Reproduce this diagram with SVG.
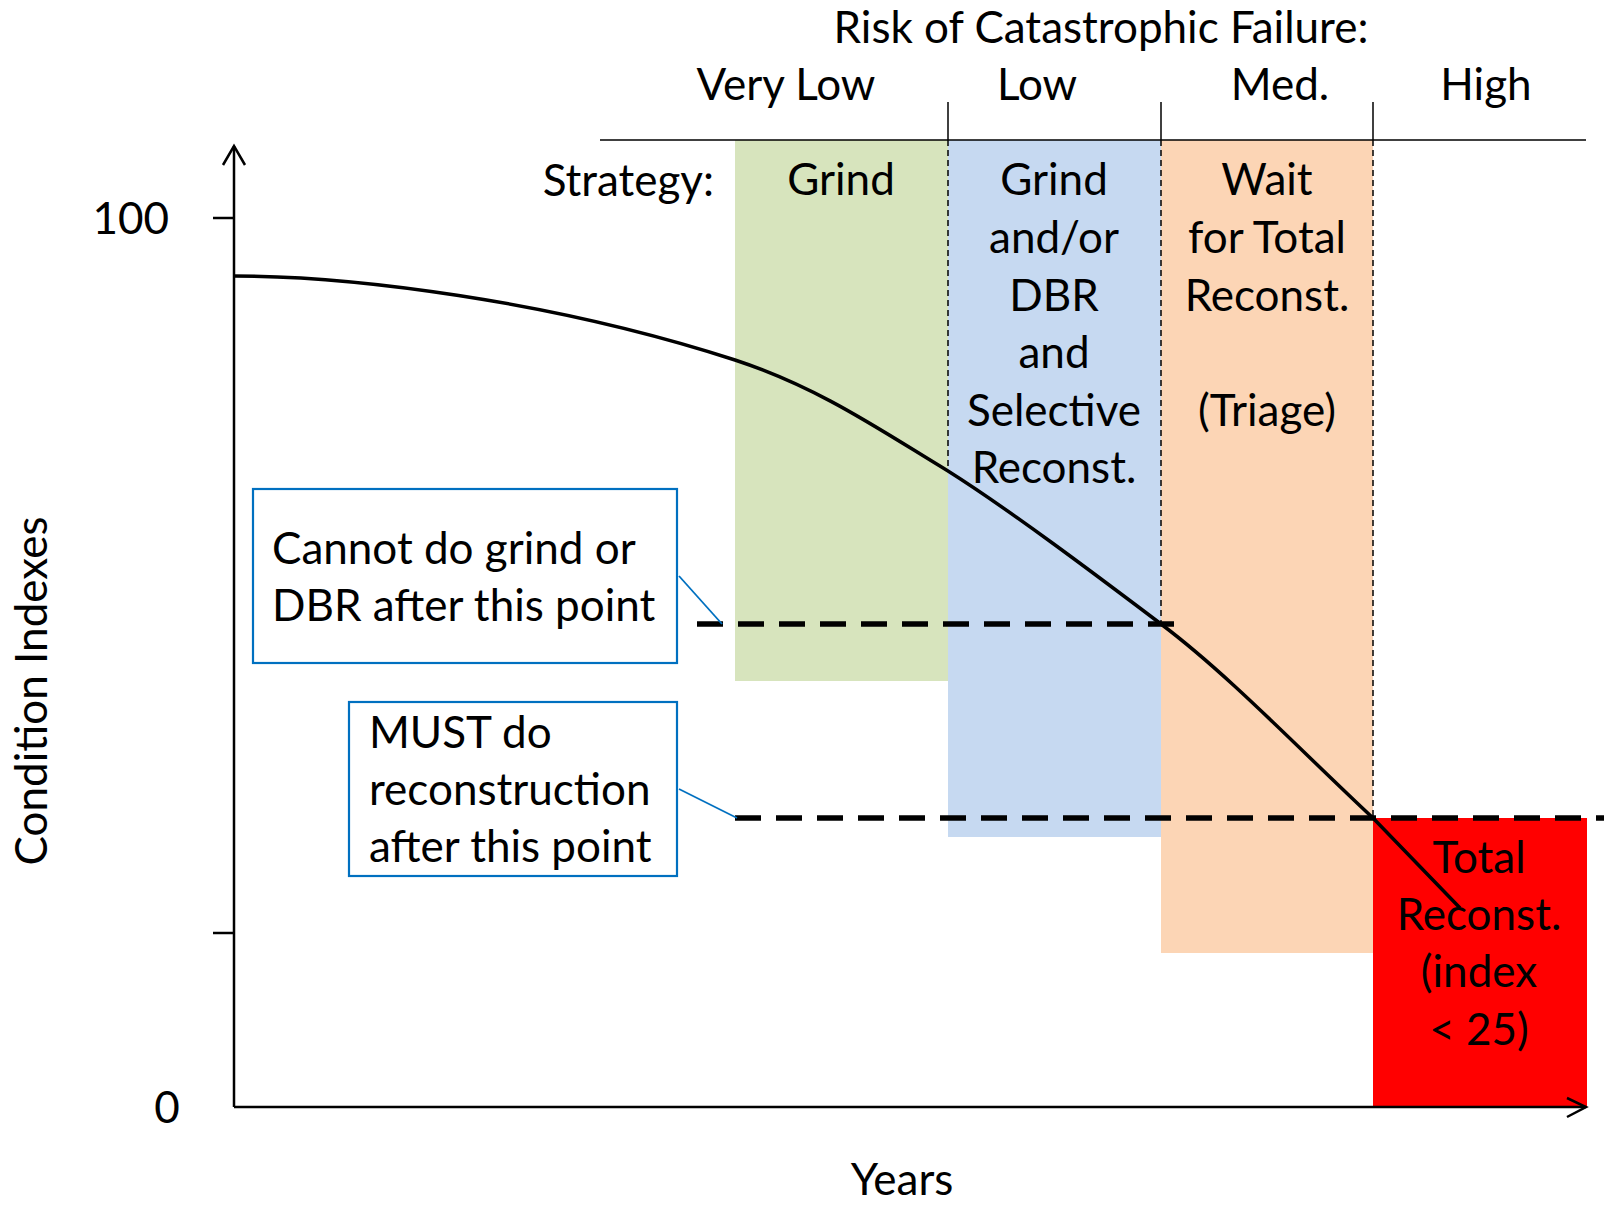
<svg xmlns="http://www.w3.org/2000/svg" width="1604" height="1205" viewBox="0 0 1604 1205">
<style>
  text { font-family: Lato, "Liberation Sans", sans-serif; font-size: 44px; fill: #000; }
  .c { text-anchor: middle; }
  .ax { stroke: #000; stroke-width: 2.5; fill: none; }
  .div { stroke: #000; stroke-width: 1.5; fill: none; }
  .dotv { stroke: #000; stroke-width: 1.5; stroke-dasharray: 6 4; fill: none; }
  .dash { stroke: #000; stroke-width: 5.5; stroke-dasharray: 26 15; fill: none; }
  .box { fill: #fff; stroke: #0070C0; stroke-width: 2.2; }
  .lead { stroke: #0070C0; stroke-width: 1.8; fill: none; }
</style>
<rect width="1604" height="1205" fill="#fff"/>

<g id="band-grind">
  <rect x="735" y="140" width="213" height="541" fill="#D7E4BD"/>
  <text class="c" x="841" y="195">Grind</text>
</g>
<g id="band-grind-dbr">
  <rect x="948" y="140" width="213" height="697" fill="#C6D9F1"/>
  <text class="c" x="1054" y="195">Grind</text>
  <text class="c" x="1054" y="253">and/or</text>
  <text class="c" x="1054" y="311">DBR</text>
  <text class="c" x="1054" y="368">and</text>
  <text class="c" x="1054" y="426">Selective</text>
  <text class="c" x="1054" y="483">Reconst.</text>
</g>
<g id="band-wait">
  <rect x="1161" y="140" width="212" height="813" fill="#FCD5B5"/>
  <text class="c" x="1267" y="195">Wait</text>
  <text class="c" x="1267" y="253">for Total</text>
  <text class="c" x="1267" y="311">Reconst.</text>
  <text class="c" x="1267" y="426">(Triage)</text>
</g>
<g id="band-total">
  <rect x="1373" y="818" width="214" height="289" fill="#FF0000"/>
</g>

<g id="risk-header">
  <text class="c" x="1101" y="43">Risk of Catastrophic Failure:</text>
  <text class="c" x="786" y="100">Very Low</text>
  <text class="c" x="1037" y="100">Low</text>
  <text class="c" x="1280" y="100">Med.</text>
  <text class="c" x="1486" y="100">High</text>
  <line class="div" x1="600" y1="140" x2="1586" y2="140"/>
  <line class="div" x1="948" y1="102" x2="948" y2="140"/>
  <line class="div" x1="1161" y1="102" x2="1161" y2="140"/>
  <line class="div" x1="1373" y1="102" x2="1373" y2="140"/>
  <line class="dotv" x1="948" y1="140" x2="948" y2="471"/>
  <line class="dotv" x1="1161" y1="140" x2="1161" y2="624"/>
  <line class="dotv" x1="1373" y1="140" x2="1373" y2="818"/>
  <text x="714" y="196" text-anchor="end">Strategy:</text>
</g>

<g id="axes">
  <line class="ax" x1="234" y1="146" x2="234" y2="1107"/>
  <line class="ax" x1="234" y1="1107" x2="1586" y2="1107"/>
  <polyline class="ax" points="223,165 234,146 245,165"/>
  <polyline class="ax" points="1567,1098 1586,1107 1567,1117"/>
  <line class="ax" x1="213" y1="218" x2="234" y2="218"/>
  <line class="ax" x1="213" y1="933" x2="234" y2="933"/>
  <text x="169" y="234" text-anchor="end">100</text>
  <text x="167" y="1123" text-anchor="middle">0</text>
  <text class="c" x="902" y="1195">Years</text>
  <text class="c" transform="translate(47,691) rotate(-90)">Condition Indexes</text>
</g>

<g id="connectors">
  <line class="dash" x1="697" y1="624" x2="1182" y2="624"/>
  <line class="dash" x1="735" y1="818" x2="1604" y2="818"/>
  <path d="M234,276 C350,276 550,300 735,360 C820,388 880,430 948,471 C1010,510 1100,578 1161,624 C1230,676 1300,750 1373,818 L1460,908" fill="none" stroke="#000" stroke-width="3.5"/>
  <line class="lead" x1="679" y1="576" x2="722" y2="624"/>
  <line class="lead" x1="679" y1="789" x2="737" y2="818"/>
</g>

<g id="total-label">
  <text class="c" x="1479" y="873">Total</text>
  <text class="c" x="1479" y="930">Reconst.</text>
  <text class="c" x="1479" y="987">(index</text>
  <text class="c" x="1479" y="1045">&lt; 25)</text>
</g>

<g id="callout-grind">
  <rect class="box" x="253" y="489" width="424" height="174"/>
  <text x="272" y="564">Cannot do grind or</text>
  <text x="272" y="621">DBR after this point</text>
</g>
<g id="callout-reconstruct">
  <rect class="box" x="349" y="702" width="328" height="174"/>
  <text x="369" y="748">MUST do</text>
  <text x="369" y="805">reconstruction</text>
  <text x="369" y="862">after this point</text>
</g>
</svg>
